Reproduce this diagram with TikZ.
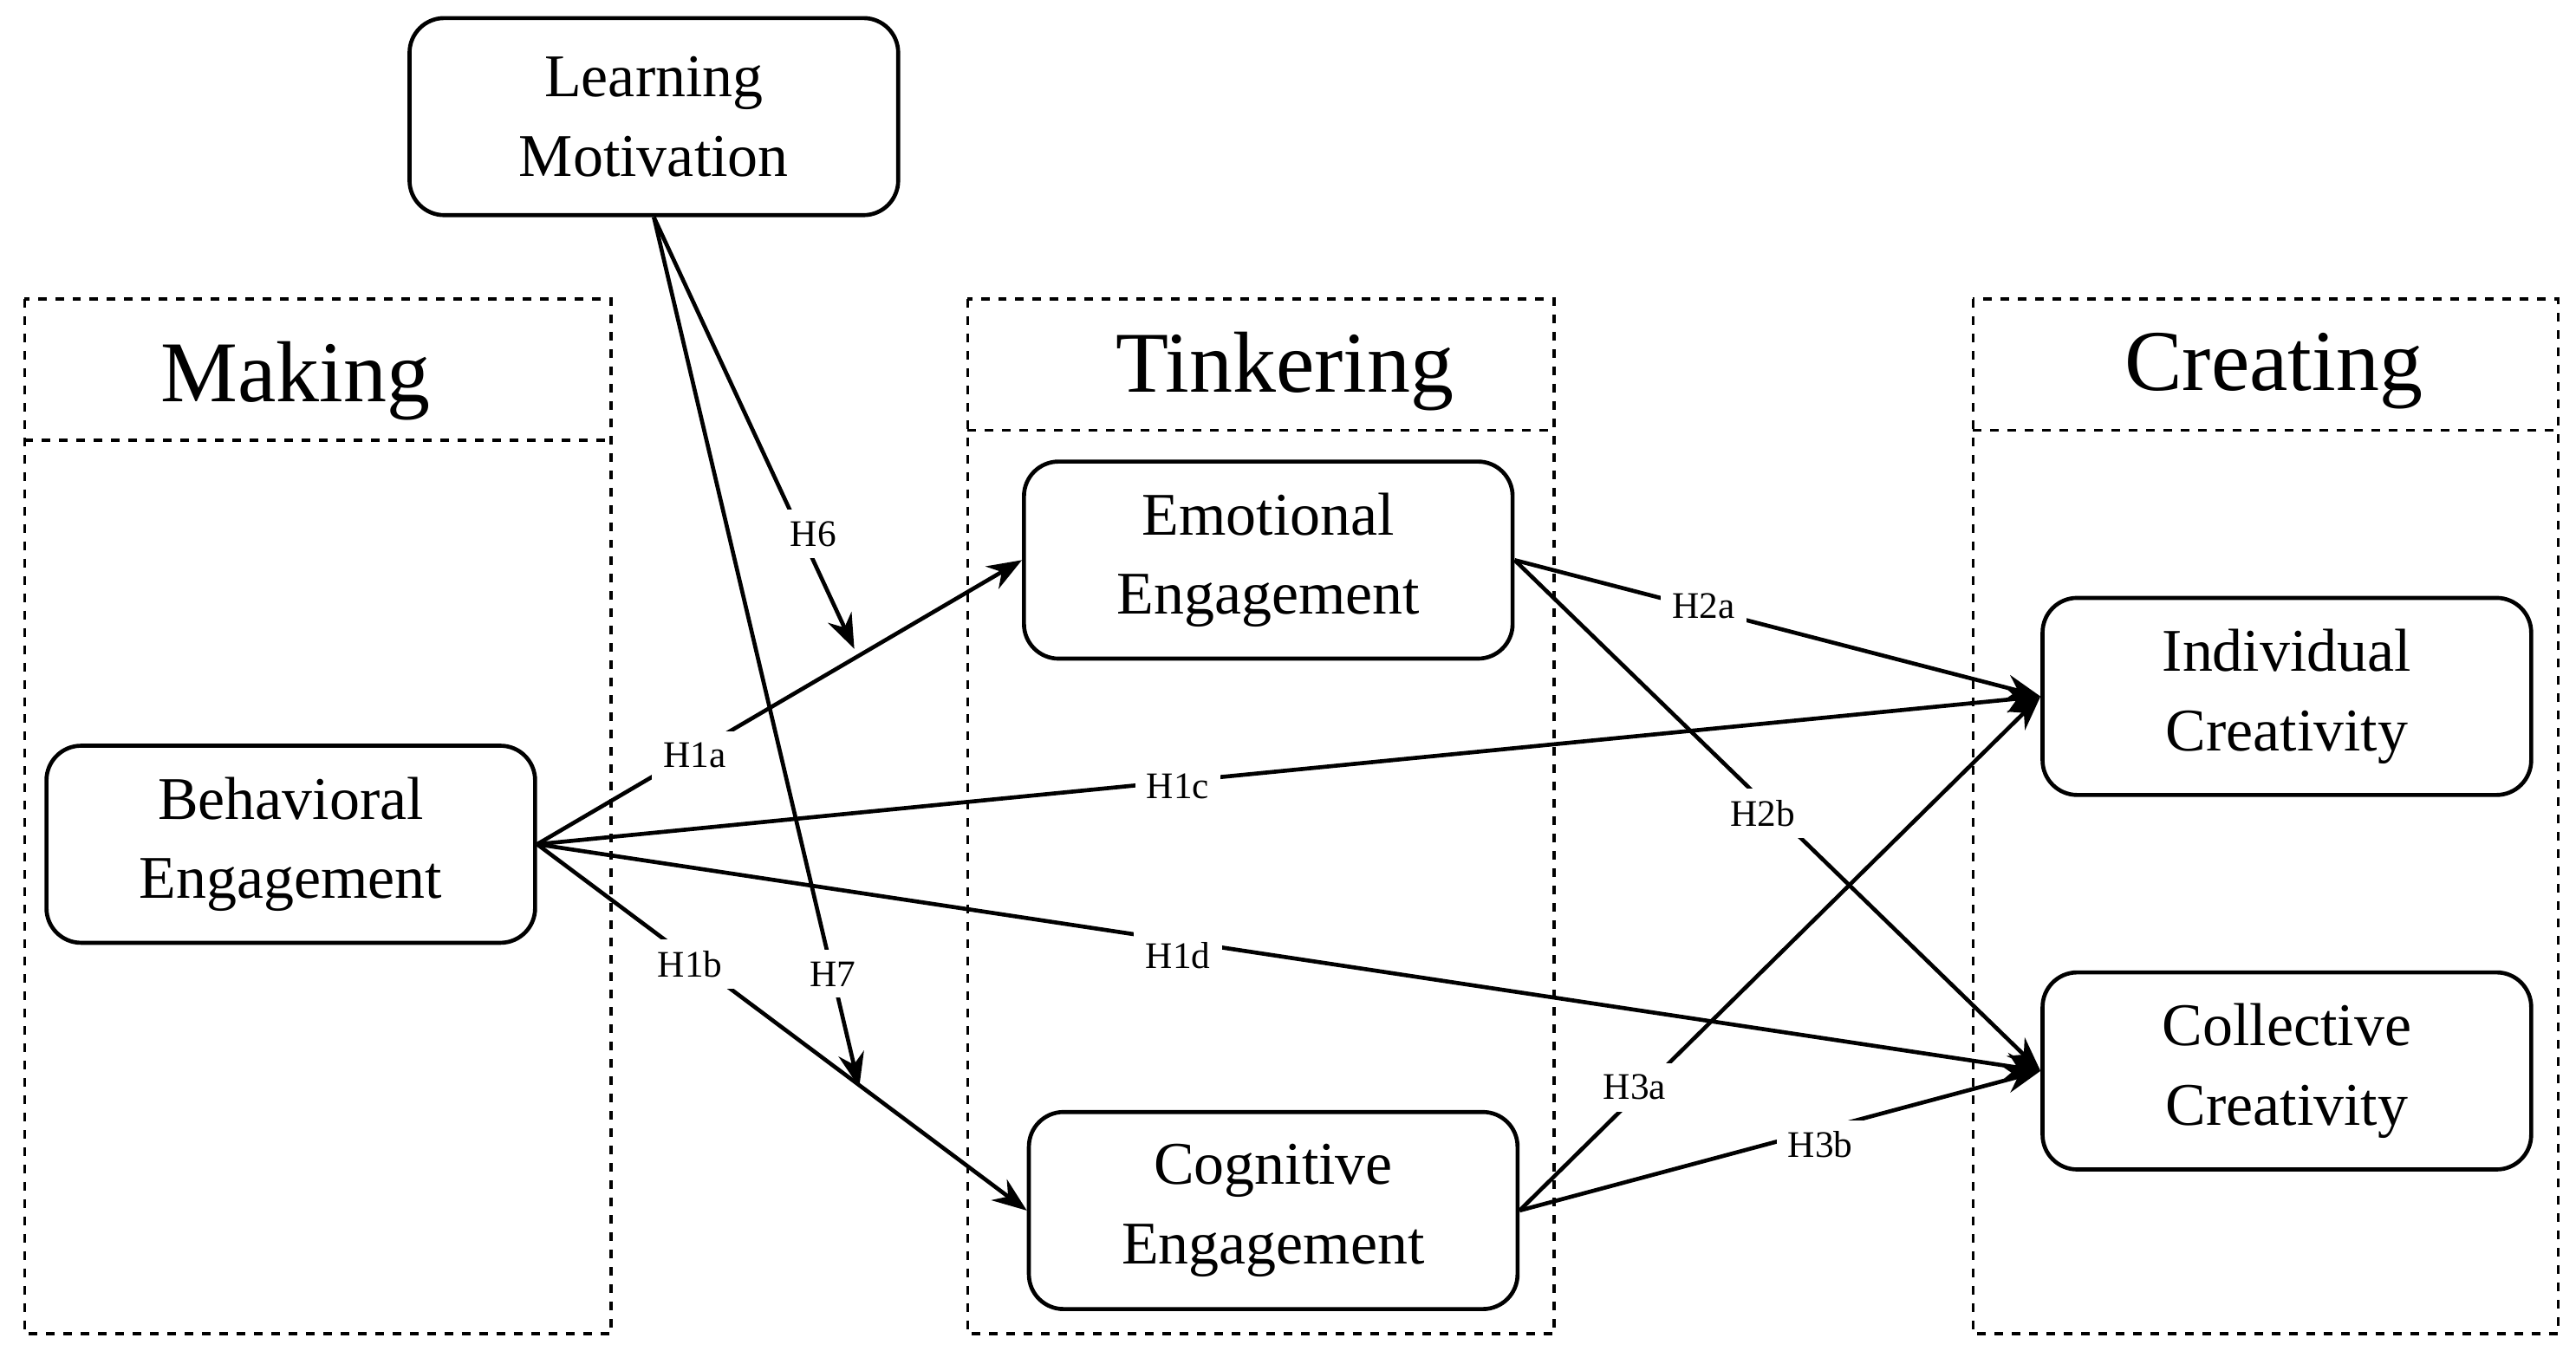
\documentclass[tikz,border=0pt]{standalone}
\usepackage{fontspec}
\setmainfont{Liberation Serif}
\usetikzlibrary{arrows.meta}
\begin{document}
\begin{tikzpicture}[x=0.02cm,y=-0.02cm,
  box/.style={draw,line width=1.4pt,rounded corners=12pt,minimum width=5.95cm,minimum height=2.4cm,align=center,font=\fontsize{21}{27.5}\selectfont},
  panel/.style={draw,dashed,line width=1pt},
  title/.style={font=\fontsize{30}{34}\selectfont},
  arr/.style={line width=1.4pt,-{Stealth[length=12pt,width=9pt]}},
  lbl/.style={fill=white,inner sep=4pt,font=\fontsize{13}{15}\selectfont}]
\useasboundingbox (0,0) rectangle (1568,830);
% panels
\draw[panel] (15,182) rectangle (372,812); \draw[panel] (15,268) -- (372,268);
\draw[panel] (589,182) rectangle (946,812); \draw[panel] (589,262) -- (946,262);
\draw[panel] (1201,182) rectangle (1557,812); \draw[panel] (1201,262) -- (1557,262);
\node[title] (tm) at (180,232) {Making};
\node[title] (tt) at (782,226) {Tinkering};
\node[title] (tc) at (1384,226) {Creating};
% boxes
\node[box] (lm) at (398,71) {Learning\\Motivation};
\node[box] (be) at (177,514) {Behavioral\\Engagement};
\node[box] (ee) at (772,341) {Emotional\\Engagement};
\node[box] (ce) at (775,737) {Cognitive\\Engagement};
\node[box] (ic) at (1392,424) {Individual\\Creativity};
\node[box] (cc) at (1392,652) {Collective\\Creativity};
\coordinate (h6e) at (520,395);
\coordinate (h7e) at (523,662);
% arrows
\draw[arr] (lm.south) -- (h6e);
\draw[arr] (lm.south) -- (h7e);
\draw[arr] (be.east) -- (ee.west);
\draw[arr] (be.east) -- (ce.west);
\draw[arr] (be.east) -- (ic.west);
\draw[arr] (be.east) -- (cc.west);
\draw[arr] (ee.east) -- (ic.west);
\draw[arr] (ee.east) -- (cc.west);
\draw[arr] (ce.east) -- (ic.west);
\draw[arr] (ce.east) -- (cc.west);
% labels
\node[lbl] (l6) at (495,325) {H6};
\node[lbl] (l7) at (507,593) {H7};
\node[lbl] (l1a) at (423,460) {H1a};
\node[lbl] (l1b) at (420,587) {H1b};
\node[lbl] (l1c) at (717,479) {H1c};
\node[lbl] (l1d) at (717,582) {H1d};
\node[lbl] (l2a) at (1037,369) {H2a};
\node[lbl] (l2b) at (1073,495) {H2b};
\node[lbl] (l3a) at (995,662) {H3a};
\node[lbl] (l3b) at (1108,697) {H3b};
\end{tikzpicture}
\end{document}
